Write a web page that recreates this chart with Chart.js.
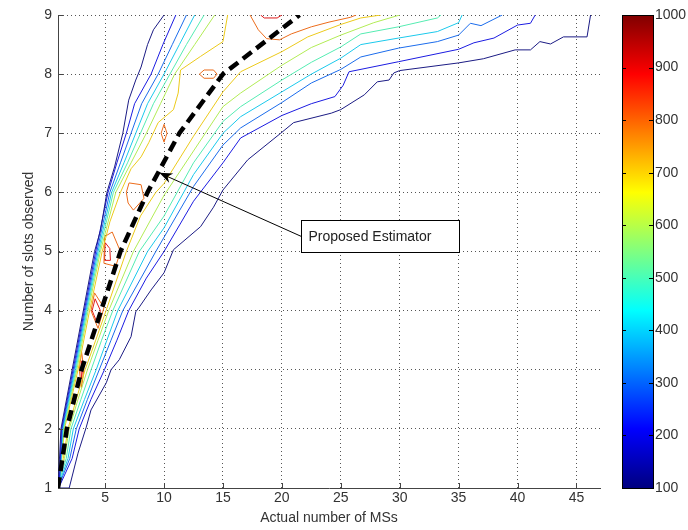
<!DOCTYPE html>
<html>
<head>
<meta charset="utf-8">
<script src="https://cdn.jsdelivr.net/npm/chart.js@4.4.1/dist/chart.umd.min.js"></script>
<style>
  html, body { margin: 0; padding: 0; background: #fff; }
  #wrap { position: relative; width: 688px; height: 530px; }
  #main { position: absolute; left: 0; top: 0; }
  #cbar { position: absolute; left: 600px; top: 0; }
</style>
</head>
<body>
<div id="wrap">
  <canvas id="main" width="688" height="530"></canvas>
  <canvas id="cbar" width="88" height="530"></canvas>
</div>
<script>
// axis ticks
const xTicks = [5, 10, 15, 20, 25, 30, 35, 40, 45];
const yTicks = [1, 2, 3, 4, 5, 6, 7, 8, 9];
const cbTicks = [100, 200, 300, 400, 500, 600, 700, 800, 900, 1000];

// contour lines, [actual MSs, slots observed]
const c100 = [[10.0,9.0],[9.1,8.75],[8.6,8.5],[8.05,8.12],[7.6,7.9],[7.0,7.56],[6.5,7.0],[5.8,6.43],[5.15,6.0],[4.6,5.35],[4.1,5.0],[3.15,4.0],[2.2,3.0],[1.25,2.0],[1.05,1.2],[1.0,1.0],
  [1.95,1.0],[2.7,1.59],[3.4,2.03],[3.8,2.32],[5.1,2.78],[5.5,3.0],[6.2,3.17],[7.2,3.56],[7.6,3.98],[7.9,4.06],[8.9,4.35],[10,4.64],[10.8,5.03],[13.1,5.42],[14.2,5.75],[15,6.04],[17.1,6.55],[19.9,7.0],[21,7.18],[24.2,7.34],[25,7.40],[27,7.65],[28.1,7.87],[29.1,7.9],[29.5,8.02],[30,8.06],[35,8.19],[37.1,8.26],[39.8,8.41],[41.1,8.41],[41.9,8.55],[42.8,8.51],[43.9,8.63],[45.9,8.63],[46.2,9.0]];
const c200 = [[11.0,9.0],[9.9,8.5],[8.9,8.0],[7.5,7.5],[6.8,7.0],[6.0,6.5],[5.25,6.0],[4.2,5.0],[3.23,4.0],[2.28,3.0],[1.3,2.0],[1.1,1.02],
  [2.2,1.5],[2.8,2.0],[3.8,2.5],[4.94,3.0],[6.0,3.5],[7.0,4.0],[8.5,4.55],[10,5.0],[12.5,5.85],[15,6.5],[16.5,6.92],[20,7.3],[22.5,7.5],[24.5,7.62],[25.2,7.81],[25.7,8.04],[29.9,8.21],[35,8.42],[36.3,8.53],[38,8.61],[40,8.83],[41.1,8.86],[41.5,9.0]];
const c300 = [[11.9,9.0],[10.7,8.5],[9.5,8.0],[8.1,7.5],[7.2,7.0],[6.3,6.5],[5.4,6.0],[4.3,5.0],[3.31,4.0],[2.36,3.0],[1.35,2.0],[1.12,1.06],
  [2.0,1.5],[2.55,2.0],[3.5,2.5],[4.5,3.0],[5.5,3.5],[6.5,4.0],[9.3,5.0],[12.5,6.1],[15,6.8],[16.5,7.09],[20,7.52],[22.5,7.85],[25,8.08],[26.7,8.29],[29.9,8.44],[33.2,8.55],[35,8.66],[36,8.86],[36.9,8.82],[38.7,9.0]];
const c400 = [[12.6,9.0],[11.3,8.5],[10.0,8.0],[8.6,7.5],[7.6,7.0],[6.6,6.5],[5.55,6.0],[4.4,5.0],[3.39,4.0],[2.44,3.0],[1.4,2.0],[1.14,1.1],
  [1.85,1.5],[2.3,2.0],[3.25,2.5],[4.24,3.0],[5.15,3.5],[6.07,4.0],[8.6,5.0],[10,5.4],[12.5,6.3],[15,7.0],[16.5,7.28],[20,7.7],[22.5,8.0],[25,8.27],[26.7,8.5],[29.9,8.61],[33.2,8.72],[35,8.87],[35.3,9.0]];
const c500 = [[13.4,9.0],[11.9,8.5],[10.5,8.0],[9.1,7.5],[8.0,7.0],[6.9,6.5],[5.7,6.0],[4.5,5.0],[3.47,4.0],[2.52,3.0],[1.45,2.0],[1.16,1.15],
  [1.7,1.5],[2.1,2.0],[2.95,2.5],[3.81,3.0],[4.7,3.5],[5.65,4.0],[7.9,5.0],[10,5.6],[12.5,6.5],[15,7.2],[16.5,7.45],[20,7.9],[22.5,8.2],[25,8.46],[26.7,8.68],[29.9,8.8],[33.2,8.95],[33.5,9.0]];
const c600 = [[14.3,9.0],[12.6,8.5],[10.9,8.0],[9.7,7.5],[8.5,7.0],[7.2,6.5],[5.9,6.0],[4.6,5.0],[3.56,4.0],[2.6,3.0],[1.5,2.0],[1.18,1.2],
  [1.55,1.5],[1.95,2.0],[2.7,2.5],[3.5,3.0],[4.4,3.5],[5.3,4.0],[7.4,5.0],[10,5.95],[12.5,6.7],[15,7.45],[16.5,7.68],[20,8.15],[22.5,8.45],[25,8.66],[27.8,8.87],[30,9.0]];
const c700 = [[15.4,9.0],[15.0,8.55],[13.1,8.3],[11.4,8.07],[11.2,7.68],[10.8,7.4],[9.5,7.18],[8.7,6.84],[8.05,6.6],[7.2,6.4],[6.3,6.0],[5.4,5.5],[4.75,5.0],[3.68,4.0],[2.7,3.0],[1.55,2.0],[1.2,1.25],
  [1.45,1.5],[1.85,2.0],[2.55,2.5],[3.3,3.0],[4.2,3.5],[5.08,4.0],[6.8,5.0],[8,5.6],[9.3,6.0],[10,6.15],[12.5,6.95],[15,7.7],[16.5,8.04],[20,8.38],[22.2,8.63],[25,8.84],[26.7,8.95],[28.4,9.0]];
const c800a = [[2.8,3.0],[3.0,3.3],[3.2,3.0],[3.0,2.7],[2.8,3.0]];
const c800b = [[3.8,4.0],[4.1,4.3],[4.9,4.05],[4.4,3.7],[3.8,4.0]];
const c800c = [[4.9,4.8],[4.95,5.25],[5.6,5.33],[6.3,5.0],[5.9,4.75],[4.9,4.8]];
const c800d = [[6.8,6.0],[7.03,6.16],[8.05,6.13],[8.3,5.9],[7.4,5.7],[6.95,5.82],[6.8,6.0]];
const c800e = [[9.75,7.0],[10.0,7.15],[10.25,7.0],[10.0,6.85],[9.75,7.0]];
const c800f = [[13.0,8.0],[13.4,8.07],[14.2,8.07],[14.5,8.0],[14.2,7.93],[13.4,7.93],[13.0,8.0]];
const c800g = [[17.3,9.0],[18.0,8.75],[18.7,8.6],[19.8,8.58],[20.8,8.68],[22.5,8.8],[24,8.88],[25.8,8.96],[26.3,9.0]];
const c900a = [[2.95,3.0],[3.0,3.15],[3.08,3.0],[3.0,2.85],[2.95,3.0]];
const c900b = [[3.9,4.0],[4.15,4.2],[4.6,4.0],[4.3,3.8],[3.9,4.0]];
const c900c = [[4.95,4.85],[5.0,5.15],[5.4,5.05],[5.45,4.85],[4.95,4.85]];
const c900d = [[18.2,9.0],[18.5,8.95],[19.6,8.95],[20.0,9.0]];

// proposed estimator curve
const estimator = [[1,1],[1.75,2],[3.0,3],[4.66,4],[6.3,5],[8.6,6],[11.3,7],[15.0,8],[21.5,9]];

// annotation: box corners [x1, x2, y1, y2] and arrow tip
const noteBox = [21.6, 35.0, 4.99, 5.53];
const noteTip = [9.6, 6.33];
const noteText = 'Proposed Estimator';

function jet(t) {
  const c = v => Math.round(255 * Math.max(0, Math.min(1, v)));
  return 'rgb(' + c(1.5 - Math.abs(4 * t - 3)) + ',' + c(1.5 - Math.abs(4 * t - 2)) + ',' + c(1.5 - Math.abs(4 * t - 1)) + ')';
}
// contour strokes look a bit washed out in the original, so soften jet a little
function softJet(t) {
  const m = jet(t).match(/\d+/g).map(Number);
  const k = 0.18;
  return 'rgb(' + m.map(v => Math.round(v * (1 - k) + 150 * k)).join(',') + ')';
}
const lvl = v => softJet((v - 100) / 900);

const contours = [
  [c100, 100], [c200, 200], [c300, 300], [c400, 400], [c500, 500], [c600, 600], [c700, 700],
  [c800a, 800], [c800b, 800], [c800c, 800], [c800d, 800], [c800e, 800], [c800f, 800], [c800g, 800],
  [c900a, 900], [c900b, 900], [c900c, 900], [c900d, 900]
];
const toXY = arr => arr.map(p => ({ x: p[0], y: p[1] }));

Chart.defaults.font.family = '"Liberation Sans", Arial, sans-serif';
Chart.defaults.font.size = 14;
Chart.defaults.color = '#333';

const datasets = [{
  data: toXY(estimator),
  showLine: true,
  borderColor: '#000',
  borderWidth: 4.5,
  borderDash: [11, 6],
  pointRadius: 0,
  tension: 0
}];
contours.forEach(([pts, v]) => {
  datasets.push({
    data: toXY(pts),
    showLine: true,
    borderColor: lvl(v),
    borderWidth: 1,
    pointRadius: 0,
    tension: 0
  });
});

const extras = {
  id: 'extras',
  afterDraw(chart) {
    const { ctx, chartArea: a, scales: { x, y } } = chart;
    ctx.save();
    // inward ticks like matlab
    ctx.strokeStyle = '#444';
    ctx.lineWidth = 1;
    ctx.beginPath();
    xTicks.forEach(v => {
      const px = Math.round(x.getPixelForValue(v)) + 0.5;
      ctx.moveTo(px, a.bottom); ctx.lineTo(px, a.bottom - 5);
    });
    yTicks.forEach(v => {
      const py = Math.round(y.getPixelForValue(v)) + 0.5;
      ctx.moveTo(a.left, py); ctx.lineTo(a.left + 5, py);
    });
    ctx.stroke();

    // arrow + text box
    const bx1 = Math.round(x.getPixelForValue(noteBox[0])) + 0.5;
    const bx2 = Math.round(x.getPixelForValue(noteBox[1])) + 0.5;
    const by1 = Math.round(y.getPixelForValue(noteBox[3])) + 0.5;
    const by2 = Math.round(y.getPixelForValue(noteBox[2])) + 0.5;
    const sy = (by1 + by2) / 2;
    const tx = x.getPixelForValue(noteTip[0]);
    const ty = y.getPixelForValue(noteTip[1]);
    const ang = Math.atan2(ty - sy, tx - bx1);
    ctx.strokeStyle = '#000';
    ctx.beginPath();
    ctx.moveTo(bx1, sy);
    ctx.lineTo(tx - Math.cos(ang) * 8, ty - Math.sin(ang) * 8);
    ctx.stroke();
    ctx.fillStyle = '#000';
    ctx.beginPath();
    ctx.moveTo(tx, ty);
    ctx.lineTo(tx - Math.cos(ang) * 13 + Math.sin(ang) * 5, ty - Math.sin(ang) * 13 - Math.cos(ang) * 5);
    ctx.lineTo(tx - Math.cos(ang) * 9, ty - Math.sin(ang) * 9);
    ctx.lineTo(tx - Math.cos(ang) * 13 - Math.sin(ang) * 5, ty - Math.sin(ang) * 13 + Math.cos(ang) * 5);
    ctx.closePath();
    ctx.fill();

    ctx.fillStyle = '#fff';
    ctx.fillRect(bx1, by1, bx2 - bx1, by2 - by1);
    ctx.strokeRect(bx1, by1, bx2 - bx1, by2 - by1);
    ctx.fillStyle = '#222';
    ctx.font = '14px "Liberation Sans", Arial, sans-serif';
    ctx.textBaseline = 'middle';
    ctx.fillText(noteText, bx1 + 7, sy + 1);
    ctx.restore();
  }
};

new Chart(document.getElementById('main'), {
  type: 'scatter',
  data: { datasets },
  options: {
    responsive: false,
    animation: false,
    layout: { padding: { top: 15, right: 88, left: 0, bottom: 0 } },
    plugins: { legend: { display: false }, tooltip: { enabled: false } },
    scales: {
      x: {
        type: 'linear', min: 1, max: 47,
        afterBuildTicks: s => { s.ticks = xTicks.map(v => ({ value: v })); },
        afterFit: s => { s.height = 42; },
        ticks: { padding: 2, maxRotation: 0, autoSkip: false, color: '#333' },
        grid: { color: '#555', drawTicks: false },
        border: { display: true, color: '#444', width: 1, dash: [1, 3] },
        title: { display: true, text: 'Actual number of MSs', color: '#333', padding: { top: 0, bottom: 3 } }
      },
      y: {
        type: 'linear', min: 1, max: 9,
        afterBuildTicks: s => { s.ticks = yTicks.map(v => ({ value: v })); },
        afterFit: s => { s.width = 58; },
        ticks: { padding: 6, color: '#333' },
        grid: { color: '#555', drawTicks: false },
        border: { display: true, color: '#444', width: 1, dash: [1, 3] },
        title: { display: true, text: 'Number of slots observed', color: '#333', padding: { top: 21, bottom: 0 } }
      }
    }
  },
  plugins: [extras]
});

// colour bar
const cbFrame = {
  id: 'cbFrame',
  afterDraw(chart) {
    const { ctx, chartArea: a, scales: { y } } = chart;
    ctx.save();
    ctx.strokeStyle = '#000';
    ctx.lineWidth = 1;
    ctx.strokeRect(Math.round(a.left) + 0.5, Math.round(a.top) + 0.5, Math.round(a.right - a.left), Math.round(a.bottom - a.top));
    ctx.beginPath();
    cbTicks.forEach(v => {
      const py = Math.round(y.getPixelForValue(v)) + 0.5;
      ctx.moveTo(a.left, py); ctx.lineTo(a.left + 4, py);
      ctx.moveTo(a.right, py); ctx.lineTo(a.right - 4, py);
    });
    ctx.stroke();
    ctx.restore();
  }
};

new Chart(document.getElementById('cbar'), {
  type: 'bar',
  data: {
    labels: [''],
    datasets: [{
      data: [[cbTicks[0], cbTicks[cbTicks.length - 1]]],
      backgroundColor: c => {
        const a = c.chart.chartArea;
        if (!a) return null;
        const g = c.chart.ctx.createLinearGradient(0, a.bottom, 0, a.top);
        for (let i = 0; i <= 40; i++) g.addColorStop(i / 40, jet(i / 40));
        return g;
      },
      borderWidth: 0,
      barPercentage: 1,
      categoryPercentage: 1
    }]
  },
  options: {
    responsive: false,
    animation: false,
    layout: { padding: { top: 15, bottom: 42, left: 22, right: 0 } },
    plugins: { legend: { display: false }, tooltip: { enabled: false } },
    scales: {
      x: { display: false },
      y: {
        position: 'right', min: 100, max: 1000,
        afterBuildTicks: s => { s.ticks = cbTicks.map(v => ({ value: v })); },
        afterFit: s => { s.width = 35; },
        ticks: { padding: 2, color: '#333', callback: v => String(v) },
        grid: { display: false, drawTicks: false },
        border: { display: false }
      }
    }
  },
  plugins: [cbFrame]
});
</script>
</body>
</html>
